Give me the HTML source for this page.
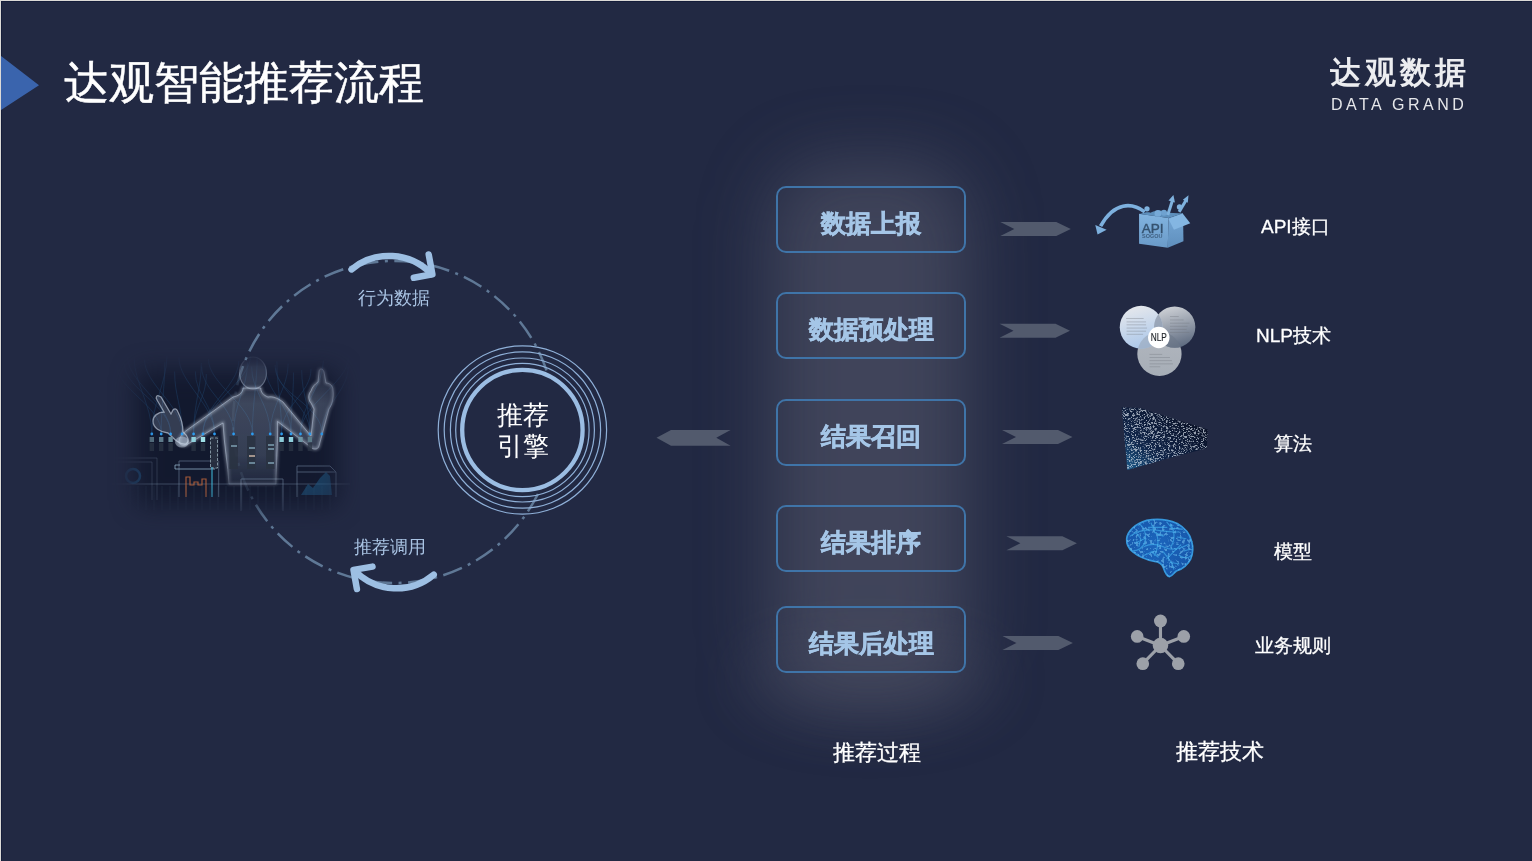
<!DOCTYPE html>
<html><head><meta charset="utf-8">
<style>
html,body{margin:0;padding:0;}
body{width:1532px;height:861px;overflow:hidden;background:#222943;position:relative;font-family:"Liberation Sans",sans-serif;}
.abs{will-change:transform;}
.abs{position:absolute;}
#bt{left:0;top:0;width:1532px;height:1px;background:#dcdad7;}
#bt2{left:1px;top:1px;width:1531px;height:1px;background:#151d3a;}
#bl{left:0;top:0;width:1px;height:861px;background:#dcdad7;}
#bl2{left:1px;top:1px;width:1px;height:860px;background:#151d3a;}
.tri{left:1px;top:56px;width:38px;height:54px;background:#3a64ad;clip-path:polygon(0 0,100% 54%,0 100%);}
.title{left:64px;top:53px;font-size:45px;color:#fff;-webkit-text-stroke:0.5px #fff;white-space:nowrap;line-height:60px;}
.glow{left:770px;top:162px;width:200px;height:535px;border-radius:60px;background:rgba(94,97,114,0.5);filter:blur(35px);}
.glow2{left:790px;top:660px;width:160px;height:55px;border-radius:50%;background:rgba(94,97,114,0.25);filter:blur(18px);}
.box{left:776px;width:186px;height:63px;border:2px solid #3f74a8;border-radius:10px;color:#a5c6e7;font-weight:bold;font-size:25px;-webkit-text-stroke:0.6px #a5c6e7;text-align:center;line-height:70px;white-space:nowrap;}
.lbl{color:#fff;-webkit-text-stroke:0.3px #fff;font-size:19px;white-space:nowrap;line-height:24px;}
.cap{color:#fff;-webkit-text-stroke:0.3px #fff;font-size:22px;white-space:nowrap;line-height:28px;}
.circ{color:#a9c3e3;font-size:18px;white-space:nowrap;line-height:22px;}
</style></head><body>
<svg class="abs" style="left:600px;top:0px" width="540" height="861" viewBox="600 0 540 861">
<defs><filter id="gblur" x="-100%" y="-50%" width="300%" height="200%"><feGaussianBlur stdDeviation="35"/></filter>
<filter id="gblur2" x="-100%" y="-100%" width="300%" height="300%"><feGaussianBlur stdDeviation="28"/></filter></defs>
<rect x="770" y="162" width="200" height="535" rx="60" fill="rgb(94,97,114)" opacity="0.5" filter="url(#gblur)"/>
<ellipse cx="870" cy="680" rx="130" ry="45" fill="rgb(94,97,114)" opacity="0.22" filter="url(#gblur2)"/>
</svg>
<div id="bt" class="abs"></div><div id="bt2" class="abs"></div>
<div id="bl" class="abs"></div><div id="bl2" class="abs"></div>
<div class="abs tri"></div>
<div class="abs title">达观智能推荐流程</div>

<!-- logo -->
<div class="abs" style="left:1330px;top:53px;font-size:31px;color:#ecedf0;font-weight:bold;white-space:nowrap;line-height:40px;letter-spacing:4px;">达观数据</div>
<div class="abs" style="left:1331px;top:96px;font-size:16px;color:#e6e7ea;white-space:nowrap;letter-spacing:3.45px;line-height:18px;">DATA GRAND</div>




<svg class="abs" style="left:0;top:0" width="1532" height="861" viewBox="0 0 1532 861">
<circle cx="394" cy="422" r="161" fill="none" stroke="#5f7896" stroke-width="2.5" stroke-dasharray="20 6.5 3 6.5" stroke-dashoffset="33.3"/>
<g fill="none" stroke="#8fb0d8" stroke-width="1.2">
<circle cx="522.4" cy="430" r="84.2"/><circle cx="522.4" cy="430" r="78.2"/><circle cx="522.4" cy="430" r="72"/><circle cx="522.4" cy="430" r="66.7"/>
</g>
<circle cx="522.4" cy="430" r="60.2" fill="#222943" stroke="#9bbde3" stroke-width="4.3"/>
<g fill="none" stroke="#9dbfe3" stroke-width="6.5" stroke-linecap="round" stroke-linejoin="round">
<path d="M351.5,269.4 A59,59 0 0 1 431.5,274"/>
<path d="M428.7,254.5 L432.4,274.3 L413.8,277.8"/>
<path d="M433.7,574.7 A58,58 0 0 1 355,571"/>
<path d="M372.5,566.6 L353.5,569.9 L356.9,589"/>
</g>
<polygon points="656.5,437.8 671,430 730.6,430 716.3,437.8 730.6,445.7 671,445.7" fill="#525a6d"/>
<polygon points="1000.3,222 1056.3,222 1070.8,229 1056.3,236 1000.3,236 1014.3,229" fill="#525a6d"/>
<polygon points="999.5,323.8 1055.5,323.8 1070.0,330.8 1055.5,337.8 999.5,337.8 1013.5,330.8" fill="#525a6d"/>
<polygon points="1002,430 1058,430 1072.5,437 1058,444 1002,444 1016,437" fill="#525a6d"/>
<polygon points="1006.4,536.2 1062.4,536.2 1076.9,543.2 1062.4,550.2 1006.4,550.2 1020.4,543.2" fill="#525a6d"/>
<polygon points="1002.4,636 1058.4,636 1072.9,643 1058.4,650 1002.4,650 1016.4,643" fill="#525a6d"/>
</svg>
<svg class="abs" style="left:100px;top:330px" width="260" height="200" viewBox="100 330 260 200">
<defs>
<filter id="mblur" x="-30%" y="-30%" width="160%" height="160%"><feGaussianBlur stdDeviation="12"/></filter>
<mask id="pmask" maskUnits="userSpaceOnUse" x="100" y="330" width="260" height="200"><rect x="136" y="370" width="202" height="136" rx="10" fill="#fff" filter="url(#mblur)"/></mask>
<linearGradient id="bfade" gradientUnits="userSpaceOnUse" x1="0" y1="350" x2="0" y2="500"><stop offset="0" stop-color="#fff"/><stop offset="0.7" stop-color="#fff"/><stop offset="1" stop-color="#fff" stop-opacity="0.15"/></linearGradient>
<mask id="bmask" maskUnits="userSpaceOnUse" x="100" y="330" width="260" height="200"><rect x="100" y="330" width="260" height="200" fill="url(#bfade)"/></mask>
<linearGradient id="pfade" x1="0" y1="0" x2="0" y2="1">
<stop offset="0" stop-color="#c9d8ea" stop-opacity="0.06"/>
<stop offset="0.3" stop-color="#b9cbe0" stop-opacity="0.26"/>
<stop offset="1" stop-color="#a9bdd6" stop-opacity="0.2"/>
</linearGradient>
<filter id="glw" x="-30%" y="-30%" width="160%" height="160%"><feGaussianBlur stdDeviation="1.6"/></filter>
</defs>
<g mask="url(#pmask)">
<rect x="100" y="330" width="260" height="200" fill="#0f1529" opacity="0.8"/>
<g fill="none" stroke="#2f7fc4" stroke-width="0.6" opacity="0.32"><path d="M134.2,358.0 C134.2,383.0 151.8,405 151.8,433"/><path d="M166.9,356.4 C166.9,381.4 151.8,405 151.8,433"/><path d="M164.8,362.3 C164.8,387.3 161.2,405 161.2,433"/><path d="M117.0,365.1 C117.0,390.1 161.2,405 161.2,433"/><path d="M124.3,363.7 C124.3,388.7 170.6,405 170.6,433"/><path d="M127.6,356.8 C127.6,381.8 170.6,405 170.6,433"/><path d="M174.6,371.5 C174.6,396.5 182.1,405 182.1,433"/><path d="M144.5,359.5 C144.5,384.5 182.1,405 182.1,433"/><path d="M206.3,374.0 C206.3,399.0 193.6,405 193.6,433"/><path d="M201.3,362.9 C201.3,387.9 193.6,405 193.6,433"/><path d="M250.6,355.9 C250.6,380.9 203.0,405 203.0,433"/><path d="M238.8,360.8 C238.8,385.8 203.0,405 203.0,433"/><path d="M178.9,357.4 C178.9,382.4 214.5,405 214.5,433"/><path d="M195.3,371.3 C195.3,396.3 214.5,405 214.5,433"/><path d="M201.7,366.6 C201.7,391.6 233.6,405 233.6,433"/><path d="M247.5,362.4 C247.5,387.4 233.6,405 233.6,433"/><path d="M257.2,356.3 C257.2,381.3 252.4,405 252.4,433"/><path d="M208.4,359.1 C208.4,384.1 252.4,405 252.4,433"/><path d="M288.2,363.6 C288.2,388.6 270.2,405 270.2,433"/><path d="M251.6,366.7 C251.6,391.7 270.2,405 270.2,433"/><path d="M276.9,361.0 C276.9,386.0 281.6,405 281.6,433"/><path d="M311.0,369.0 C311.0,394.0 281.6,405 281.6,433"/><path d="M265.4,366.5 C265.4,391.5 291.0,405 291.0,433"/><path d="M293.5,372.5 C293.5,397.5 291.0,405 291.0,433"/><path d="M323.4,360.8 C323.4,385.8 300.5,405 300.5,433"/><path d="M348.5,357.4 C348.5,382.4 300.5,405 300.5,433"/><path d="M301.7,370.1 C301.7,395.1 309.9,405 309.9,433"/><path d="M275.1,364.8 C275.1,389.8 309.9,405 309.9,433"/><path d="M275.7,368.4 C275.7,393.4 321.8,405 321.8,433"/><path d="M348.3,366.5 C348.3,391.5 321.8,405 321.8,433"/></g>
<line x1="110" y1="484" x2="350" y2="484" stroke="#8aa3bd" stroke-width="1" opacity="0.35"/>
<g stroke="#7b94b0" stroke-width="0.5" opacity="0.18">
<path d="M130,486 v24 M138,486 v24 M146,486 v24 M154,486 v24 M162,486 v24 M170,486 v24 M178,486 v24 M186,486 v24 M194,486 v24 M202,486 v24 M210,486 v24 M218,486 v24 M226,486 v24 M234,486 v24 M242,486 v24 M250,486 v24 M258,486 v24 M266,486 v24 M274,486 v24 M282,486 v24 M290,486 v24 M298,486 v24 M306,486 v24 M314,486 v24 M322,486 v24 M330,486 v24"/>
</g>
<g fill="none" stroke="#8aa3bd" stroke-width="0.9" opacity="0.5">
<path d="M114,458 L157,458 L157,500 M114,462 L152,462 L152,500" opacity="0.5"/>
<path d="M179,461 L218.7,461 L218.7,497 M179,461 L179,497"/>
<path d="M241,479 L283,479 L283,511 M241,479 L241,511"/>
<path d="M297,466 L330,466 L336,472 L336,497 M297,466 L297,497 M297,472 L336,472"/>
</g>
<circle cx="133" cy="476" r="7" fill="none" stroke="#1e6aa0" stroke-width="2.5" opacity="0.5"/>
<path d="M301,495 L308,484 L313,488 L320,478 L326,472 L330,476 L332,495 Z" fill="#1f5b86" opacity="0.55"/>
<g mask="url(#bmask)"><path d="M243,388 C243,393 238,396 233,397 L187,430 C183,433 179,437 179,442 C180,446 185,446 188,444 L223,423 C224,445 228,465 229,484 L276,484 C276,465 278,445 277.5,421.5 L310,446.6 C313,450 318,450 319,446 L329,409 C332,405 334,398 333,390 C333,386 330,383 326,383 L324,372 C323,368 319,368 319,372 L318,382 C315,384 312,387 311,391 C308,394 308,400 311,403 L314,409 L311,436 L283,402 C278,398 272,396 268,397 C263,395 260.8,392 260.8,388 Z" fill="url(#pfade)"/>
<path d="M243,388 C243,393 238,396 233,397 L187,430 C183,433 179,437 179,442 C180,446 185,446 188,444 L223,423 C224,445 228,465 229,484 L276,484 C276,465 278,445 277.5,421.5 L310,446.6 C313,450 318,450 319,446 L329,409 C332,405 334,398 333,390 C333,386 330,383 326,383 L324,372 C323,368 319,368 319,372 L318,382 C315,384 312,387 311,391 C308,394 308,400 311,403 L314,409 L311,436 L283,402 C278,398 272,396 268,397 C263,395 260.8,392 260.8,388 Z" fill="none" stroke="#d3e0ef" stroke-opacity="0.55" stroke-width="2.2" filter="url(#glw)"/>
<path d="M243,388 C243,393 238,396 233,397 L187,430 C183,433 179,437 179,442 C180,446 185,446 188,444 L223,423 C224,445 228,465 229,484 L276,484 C276,465 278,445 277.5,421.5 L310,446.6 C313,450 318,450 319,446 L329,409 C332,405 334,398 333,390 C333,386 330,383 326,383 L324,372 C323,368 319,368 319,372 L318,382 C315,384 312,387 311,391 C308,394 308,400 311,403 L314,409 L311,436 L283,402 C278,398 272,396 268,397 C263,395 260.8,392 260.8,388 Z" fill="none" stroke="#c9d8ea" stroke-opacity="0.5" stroke-width="0.9"/>
</g>
<ellipse cx="253" cy="373" rx="13.5" ry="16" fill="url(#pfade)" stroke="#c3d3e6" stroke-opacity="0.45" stroke-width="1.2"/>
<path d="M159,396 C157,395 155,397 157,400 L164,412 C158,412 153,416 153,421 C153,428 160,432 168,433 C175,440 180,445 186,444 C190,441 188,436 183,432 C183,425 181,418 178,412 C177,409 175,408 173,410 L171,414 L161,397 Z" fill="#8b9bb3" fill-opacity="0.28" stroke="#d3e0ef" stroke-opacity="0.6" stroke-width="1.3"/>
<ellipse cx="182" cy="442" rx="7" ry="5.5" fill="#c7d6e8" fill-opacity="0.45"/>
<circle cx="151.8" cy="434" r="1.4" fill="#2d9cf0"/><circle cx="161.2" cy="434" r="1.4" fill="#2d9cf0"/><circle cx="170.6" cy="434" r="1.4" fill="#2d9cf0"/><circle cx="182.1" cy="434" r="1.4" fill="#2d9cf0"/><circle cx="193.6" cy="434" r="1.4" fill="#2d9cf0"/><circle cx="203" cy="434" r="1.4" fill="#2d9cf0"/><circle cx="214.5" cy="434" r="1.4" fill="#2d9cf0"/><circle cx="233.6" cy="434" r="1.4" fill="#2d9cf0"/><circle cx="252.4" cy="434" r="1.4" fill="#2d9cf0"/><circle cx="270.2" cy="434" r="1.4" fill="#2d9cf0"/><circle cx="281.6" cy="434" r="1.4" fill="#2d9cf0"/><circle cx="291" cy="434" r="1.4" fill="#2d9cf0"/><circle cx="300.5" cy="434" r="1.4" fill="#2d9cf0"/><circle cx="309.9" cy="434" r="1.4" fill="#2d9cf0"/><circle cx="321.8" cy="434" r="1.4" fill="#2d9cf0"/>
<rect x="149.60000000000002" y="437" width="4.4" height="5" fill="#56707f"/><rect x="149.60000000000002" y="443" width="4.4" height="8" fill="#2a3445" opacity="0.8"/><rect x="159.0" y="437" width="4.4" height="5" fill="#5f7c8c"/><rect x="159.0" y="443" width="4.4" height="8" fill="#2a3445" opacity="0.8"/><rect x="168.4" y="437" width="4.4" height="5" fill="#6a8b99"/><rect x="168.4" y="443" width="4.4" height="8" fill="#2a3445" opacity="0.8"/><rect x="191.4" y="437" width="4.4" height="5" fill="#8fd0dc"/><rect x="191.4" y="443" width="4.4" height="8" fill="#2a3445" opacity="0.8"/><rect x="200.8" y="437" width="4.4" height="5" fill="#9fe0e6"/><rect x="200.8" y="443" width="4.4" height="8" fill="#2a3445" opacity="0.8"/><rect x="279.40000000000003" y="437" width="4.4" height="5" fill="#8ccbd8"/><rect x="279.40000000000003" y="443" width="4.4" height="8" fill="#2a3445" opacity="0.8"/><rect x="288.8" y="437" width="4.4" height="5" fill="#8fd0dc"/><rect x="288.8" y="443" width="4.4" height="8" fill="#2a3445" opacity="0.8"/><rect x="298.3" y="437" width="4.4" height="5" fill="#6f95a3"/><rect x="298.3" y="443" width="4.4" height="8" fill="#2a3445" opacity="0.8"/><rect x="307.7" y="437" width="4.4" height="5" fill="#5b7a88"/><rect x="307.7" y="443" width="4.4" height="8" fill="#2a3445" opacity="0.8"/>
<rect x="210" y="436" width="8.5" height="33" fill="#2a3242" opacity="0.85"/><rect x="229.4" y="436" width="8.5" height="33" fill="#2a3242" opacity="0.85"/><rect x="247" y="436" width="8.5" height="33" fill="#2a3242" opacity="0.85"/><rect x="266" y="436" width="8.5" height="33" fill="#2a3242" opacity="0.85"/>
<rect x="210.5" y="438" width="7" height="30" fill="none" stroke="#bcd6e0" stroke-width="0.8" stroke-dasharray="3 1.5" opacity="0.75"/>
<path d="M231,446 h6 M249,448 h6 M268,445 h6 M268,449 h6 M249,463 h6 M268,463 h6" stroke="#a5d6e8" stroke-width="1.2"/>
<path d="M249,456 h6" stroke="#e4c7b5" stroke-width="1.3"/>
<path d="M180,465 h-5 v4 h40" stroke="#9fc0d8" stroke-width="1" fill="none" opacity="0.7"/>
<path d="M186,497 v-20 h4 v8 h4 v-3 h4 v3 h4 v-6 h4 v18" stroke="#c86a3c" stroke-width="1.2" fill="none" opacity="0.8"/>
<path d="M212,497 v-30" stroke="#3fb7d8" stroke-width="1.5" opacity="0.7"/>
</g>
</svg>


<!-- API icon -->
<svg class="abs" style="left:1090px;top:190px" width="110" height="65" viewBox="0 0 1457 861">
<defs>
<linearGradient id="apiF" x1="0" y1="0" x2="0" y2="1"><stop offset="0" stop-color="#82b4e0"/><stop offset="1" stop-color="#6a9ac8"/></linearGradient>
<linearGradient id="apiR" x1="0" y1="0" x2="0" y2="1"><stop offset="0" stop-color="#76a8d6"/><stop offset="1" stop-color="#5f8fbd"/></linearGradient>
</defs>
<path d="M725,290 C560,165 320,150 140,480" fill="none" stroke="#7db0de" stroke-width="48"/>
<polygon points="70,465 220,525 100,590" fill="#7db0de"/>
<polygon points="650,315 1040,370 1030,765 650,712" fill="url(#apiF)"/>
<polygon points="1040,370 1232,312 1238,680 1030,765" fill="url(#apiR)"/>
<polygon points="1040,385 1225,308 1328,440 1112,528" fill="#84b6e2"/>
<path d="M660,318 C720,300 760,290 800,300 C850,270 950,260 1040,300 L1230,312 L1040,370 Z" fill="#5d8fbc"/>
<circle cx="755" cy="250" r="35" fill="#7fb2de"/>
<circle cx="900" cy="310" r="45" fill="#77aad8"/><circle cx="980" cy="300" r="40" fill="#6fa2d0"/>
<path d="M1030,330 L1095,130" stroke="#7fb2de" stroke-width="40"/>
<polygon points="1040,140 1105,65 1125,165" fill="#7fb2de"/>
<path d="M1180,290 L1270,140" stroke="#7fb2de" stroke-width="40"/>
<polygon points="1230,130 1305,68 1295,170" fill="#7fb2de"/>
<circle cx="1185" cy="225" r="35" fill="#7fb2de"/>
<text x="685" y="565" font-family="Liberation Sans" font-size="165" fill="#35526f" stroke="#35526f" stroke-width="5" textLength="290" lengthAdjust="spacingAndGlyphs">API</text>
<text x="690" y="630" font-family="Liberation Sans" font-size="70" fill="#3f5f80" textLength="270" lengthAdjust="spacingAndGlyphs" font-weight="bold">SOGOU</text>
</svg>

<!-- NLP icon -->
<svg class="abs" style="left:1110px;top:298px" width="95" height="84" viewBox="0 0 974 861">
<defs>
<linearGradient id="nl1" x1="0.3" y1="0" x2="0.6" y2="1"><stop offset="0" stop-color="#e6e8ec"/><stop offset="1" stop-color="#a9c6ea"/></linearGradient>
<linearGradient id="nl2" x1="0.3" y1="0" x2="0.6" y2="1"><stop offset="0" stop-color="#cfd2d7"/><stop offset="1" stop-color="#5e6b80"/></linearGradient>
<linearGradient id="nl3" x1="0" y1="0" x2="0" y2="1"><stop offset="0" stop-color="#b1b6be"/><stop offset="1" stop-color="#a7aeb7"/></linearGradient>
</defs>
<circle cx="507" cy="573" r="227" fill="url(#nl3)"/>
<circle cx="663" cy="298" r="212" fill="url(#nl2)"/>
<circle cx="320" cy="300" r="220" fill="url(#nl1)"/>
<clipPath id="cA"><circle cx="320" cy="300" r="220"/></clipPath><clipPath id="cB"><circle cx="663" cy="298" r="212"/></clipPath>
<g clip-path="url(#cA)"><circle cx="663" cy="298" r="212" fill="#8792a3" opacity="0.7"/><circle cx="507" cy="573" r="227" fill="#9aa6b8" opacity="0.6"/></g>
<g clip-path="url(#cB)"><circle cx="507" cy="573" r="227" fill="#6c7889" opacity="0.6"/></g>
<circle cx="500" cy="405" r="110" fill="#ffffff"/>
<text x="500" y="440" text-anchor="middle" font-family="Liberation Sans" font-size="105" fill="#23272d" stroke="#23272d" stroke-width="1.5" textLength="165" lengthAdjust="spacingAndGlyphs">NLP</text>
<g stroke="#6f747c" stroke-width="9" opacity="0.4">
<path d="M165,210 h180 M170,245 h200 M170,275 h200 M170,308 h210 M170,340 h200 M170,372 h170"/>
<path d="M615,190 h90 M615,225 h140 M615,258 h200 M615,290 h180 M615,322 h170 M615,353 h200"/>
<path d="M405,578 h130 M405,610 h210 M405,642 h230 M405,675 h240 M405,705 h110"/>
</g>
</svg>

<!-- Algorithm icon -->
<svg class="abs" style="left:1112px;top:398px" width="104" height="80" viewBox="0 0 1119 861">
<defs>
<linearGradient id="alg" x1="0" y1="1" x2="0.8" y2="0.2"><stop offset="0" stop-color="#1d5f90"/><stop offset="0.4" stop-color="#10254a"/><stop offset="1" stop-color="#0a1228"/></linearGradient>
<filter id="noise" x="0" y="0" width="100%" height="100%">
<feTurbulence type="fractalNoise" baseFrequency="0.05 0.3" numOctaves="2" seed="4" result="n"/>
<feColorMatrix in="n" type="matrix" values="0 0 0 0 0.66  0 0 0 0 0.72  0 0 0 0 0.8  0 0 0 6 -3.0" result="m"/>
<feComposite in="m" in2="SourceGraphic" operator="in"/>
</filter>
</defs>
<polygon points="105,100 300,108 1030,340 1020,540 640,640 165,775" fill="url(#alg)"/>
<polygon points="105,100 300,108 1030,340 1020,540 640,640 165,775" fill="#fff" filter="url(#noise)" opacity="0.7"/>
</svg>

<!-- Brain icon -->
<svg class="abs" style="left:1118px;top:510px" width="84" height="75" viewBox="0 0 964 861">
<defs>
<radialGradient id="brn" cx="0.45" cy="0.45" r="0.6"><stop offset="0" stop-color="#1c66bd"/><stop offset="1" stop-color="#1655aa"/></radialGradient>
<filter id="bnoise" x="0" y="0" width="100%" height="100%">
<feTurbulence type="fractalNoise" baseFrequency="0.03" numOctaves="2" seed="9" result="n"/>
<feColorMatrix in="n" type="matrix" values="0 0 0 0 0.2  0 0 0 0 0.62  0 0 0 0 0.95  0 0 0 8 -4.3" result="m"/>
<feComposite in="m" in2="SourceGraphic" operator="in"/>
</filter>
</defs>
<path d="M100,330 C110,240 200,160 330,120 C430,100 560,105 680,155 C760,200 820,260 845,360 C865,430 860,500 835,560 C800,630 730,680 670,700 C640,720 625,760 590,765 C560,760 540,720 520,660 C500,610 470,595 420,590 C320,570 230,530 170,480 C120,440 95,390 100,330 Z" fill="url(#brn)" stroke="#3596dc" stroke-width="20"/>
<path d="M100,330 C110,240 200,160 330,120 C430,100 560,105 680,155 C760,200 820,260 845,360 C865,430 860,500 835,560 C800,630 730,680 670,700 C640,720 625,760 590,765 C560,760 540,720 520,660 C500,610 470,595 420,590 C320,570 230,530 170,480 C120,440 95,390 100,330 Z" fill="#fff" filter="url(#bnoise)" opacity="0.5"/>
<g fill="none" stroke="#43b0ee" stroke-width="13" opacity="0.65" stroke-linecap="round">
<path d="M200,250 L260,330 L240,420 M380,150 L420,260 L520,300 M560,140 L620,210 L740,220 M720,400 L650,470 L560,560 M380,480 L460,540 M820,450 L760,470 M600,600 L700,620 M200,380 L300,330"/>
<path d="M140,300 C220,240 300,220 420,230 C520,240 600,260 700,250"/>
<path d="M250,160 C300,200 330,280 310,360 C290,440 220,470 170,470"/>
<path d="M350,200 L560,200 M600,160 C650,230 660,330 610,420"/>
<path d="M300,420 C380,380 460,390 540,430 C600,460 700,450 800,400"/>
<path d="M450,300 C470,360 460,430 420,520 M680,310 L780,330 M700,520 C760,560 800,560 840,520"/>
<path d="M520,480 C560,540 620,580 640,680 M300,520 L420,470"/>
</g>
</svg>

<!-- Network icon -->
<svg class="abs" style="left:1122px;top:608px" width="76" height="68" viewBox="0 0 962 861">
<g fill="#9ca0a8" stroke="#9ca0a8" stroke-width="40">
<line x1="487" y1="475" x2="487" y2="165"/><line x1="487" y1="475" x2="192" y2="360"/><line x1="487" y1="475" x2="782" y2="360"/><line x1="487" y1="475" x2="263" y2="705"/><line x1="487" y1="475" x2="712" y2="705"/>
</g>
<g fill="#9ca0a8">
<circle cx="487" cy="475" r="98"/><circle cx="487" cy="165" r="82"/><circle cx="192" cy="360" r="80"/><circle cx="782" cy="360" r="80"/><circle cx="263" cy="705" r="80"/><circle cx="712" cy="705" r="80"/>
</g>
</svg>

<div class="abs" style="left:497px;top:400px;width:54px;font-size:26px;line-height:30.5px;color:#fff;white-space:normal;">推荐<br>引擎</div>
<!-- process boxes -->
<div class="abs box" style="top:186px;">数据上报</div>
<div class="abs box" style="top:292px;">数据预处理</div>
<div class="abs box" style="top:399px;">结果召回</div>
<div class="abs box" style="top:505px;">结果排序</div>
<div class="abs box" style="top:606px;">结果后处理</div>

<div class="abs cap" style="left:833px;top:739px;">推荐过程</div>
<div class="abs cap" style="left:1176px;top:738px;">推荐技术</div>

<div class="abs lbl" style="left:1261px;top:215px;">API接口</div>
<div class="abs lbl" style="left:1256px;top:323.5px;">NLP技术</div>
<div class="abs lbl" style="left:1274px;top:432px;">算法</div>
<div class="abs lbl" style="left:1274px;top:539.5px;">模型</div>
<div class="abs lbl" style="left:1255px;top:633.5px;">业务规则</div>

<div class="abs circ" style="left:358px;top:287px;">行为数据</div>
<div class="abs circ" style="left:354px;top:536px;">推荐调用</div>

</body></html>
